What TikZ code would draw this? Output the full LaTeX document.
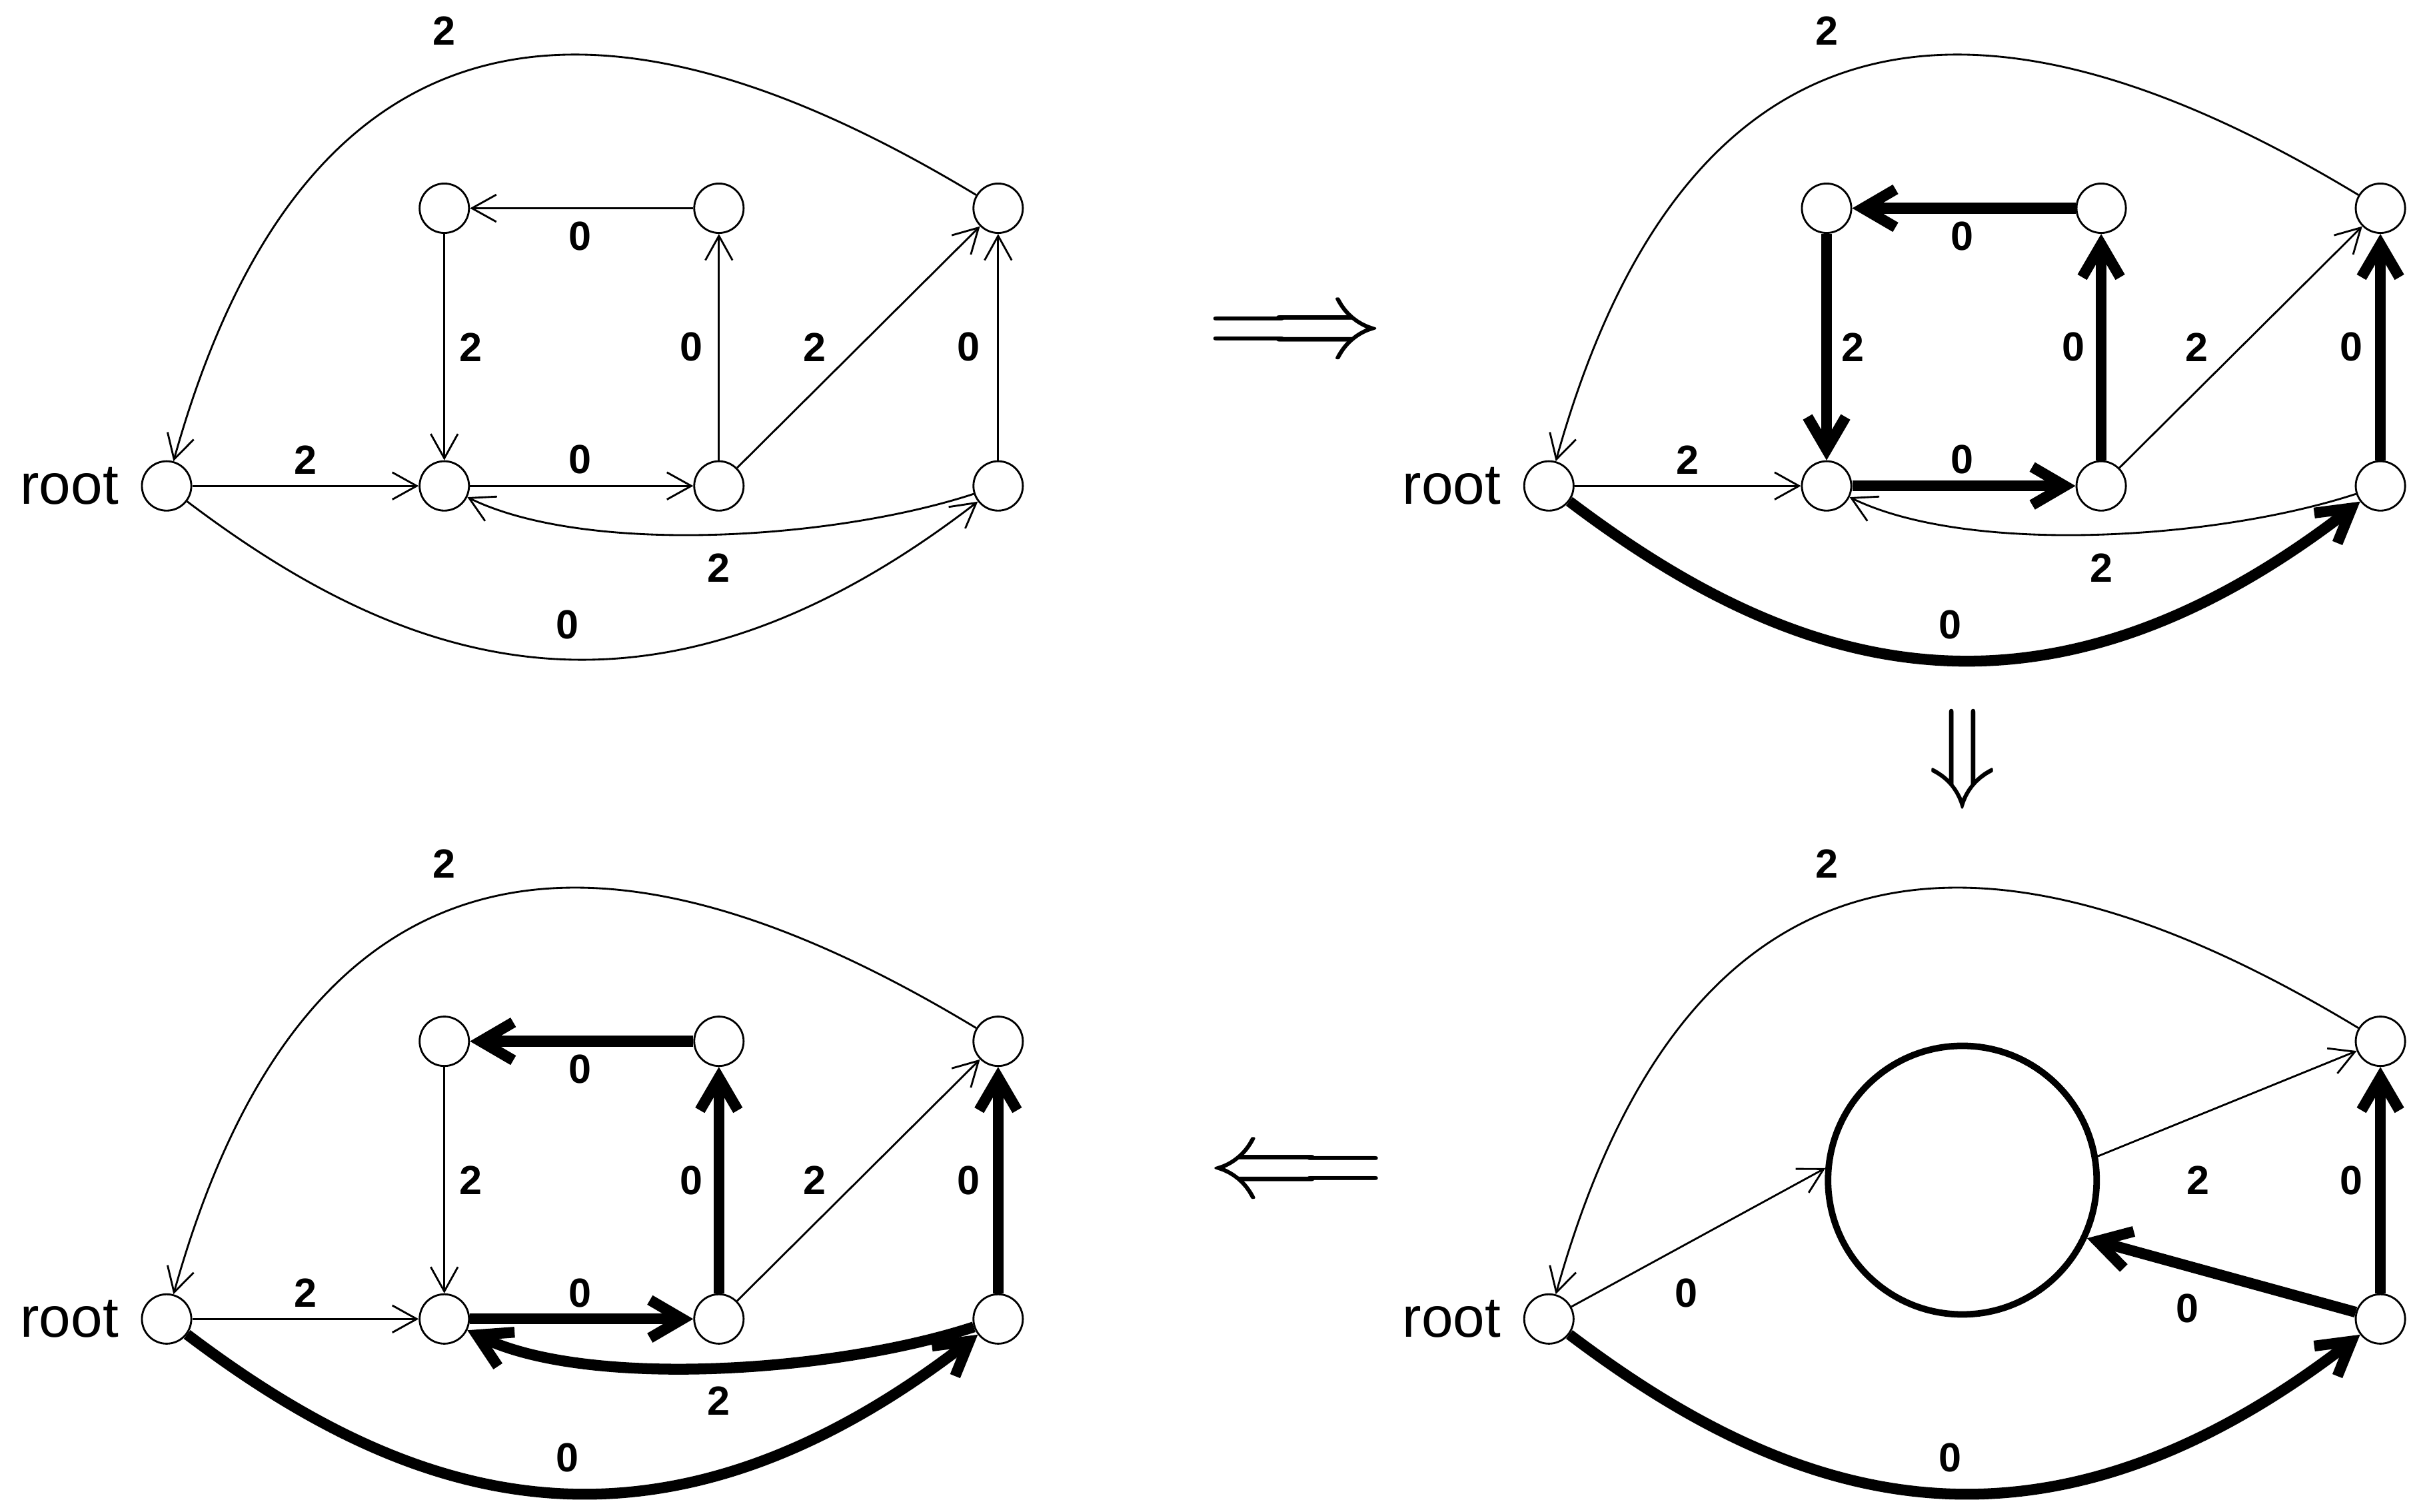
\documentclass[tikz,border=0pt]{standalone}
\usepackage{fontspec}
\setmainfont{Liberation Sans}
\usetikzlibrary{arrows.meta}
\tikzset{
 v/.style={circle,draw,line width=0.35pt,minimum size=0.32cm,inner sep=0pt},
 th/.style={line width=0.35pt,-{Straight Barb[length=4.5pt,width=5pt]}},
 tk/.style={line width=2pt,-{Straight Barb[length=6pt,width=7pt]}},
 lb/.style={font=\bfseries\fontsize{7.5}{8}\selectfont,inner sep=0pt},
 rt/.style={font=\fontsize{10.5}{12}\selectfont,inner sep=0pt},
 tr/.style={font=\fontsize{22}{24}\selectfont,inner sep=0pt},
 x=0.01cm,y=-0.01cm}
\begin{document}
\begin{tikzpicture}
\useasboundingbox (0,0) rectangle (1568,980);
% ---------- panel A (top-left)
\begin{scope}[name prefix=a-]
\node[v] (r) at (108,315) {}; \node[rt] at (45,315) {root};
\node[v] (p) at (288,135) {}; \node[v] (q) at (466,135) {};
\node[v] (s) at (288,315) {}; \node[v] (t) at (466,315) {};
\node[v] (u) at (647,135) {}; \node[v] (w) at (647,315) {};
\draw[th] (u) .. controls (440,10) and (210,-50) .. (r);
\node[lb] at (288,20) {2};
\draw[th] (q) -- (p); \node[lb] at (376,153) {0};
\draw[th] (p) -- (s); \node[lb] at (305,225) {2};
\draw[th] (t) -- (q); \node[lb] at (448,225) {0};
\draw[th] (t) -- (u); \node[lb] at (528,225) {2};
\draw[th] (w) -- (u); \node[lb] at (628,225) {0};
\draw[th] (r) -- (s); \node[lb] at (198,298) {2};
\draw[th] (s) -- (t); \node[lb] at (376,298) {0};
\draw[th] (w) .. controls (540,350) and (380,360) .. (s); \node[lb] at (466,368) {2};
\draw[th] (r) .. controls (260,430) and (420,490) .. (w); \node[lb] at (368,405) {0};
\end{scope}
% ---------- panel B (top-right)
\begin{scope}[shift={(896,0)},name prefix=b-]
\node[v] (r) at (108,315) {}; \node[rt] at (45,315) {root};
\node[v] (p) at (288,135) {}; \node[v] (q) at (466,135) {};
\node[v] (s) at (288,315) {}; \node[v] (t) at (466,315) {};
\node[v] (u) at (647,135) {}; \node[v] (w) at (647,315) {};
\draw[th] (u) .. controls (440,10) and (210,-50) .. (r);
\node[lb] at (288,20) {2};
\draw[tk] (q) -- (p); \node[lb] at (376,153) {0};
\draw[tk] (p) -- (s); \node[lb] at (305,225) {2};
\draw[tk] (t) -- (q); \node[lb] at (448,225) {0};
\draw[th] (t) -- (u); \node[lb] at (528,225) {2};
\draw[tk] (w) -- (u); \node[lb] at (628,225) {0};
\draw[th] (r) -- (s); \node[lb] at (198,298) {2};
\draw[tk] (s) -- (t); \node[lb] at (376,298) {0};
\draw[th] (w) .. controls (540,350) and (380,360) .. (s); \node[lb] at (466,368) {2};
\draw[tk] (r) .. controls (260,430) and (420,490) .. (w); \node[lb] at (368,405) {0};
\end{scope}
% ---------- panel C (bottom-left)
\begin{scope}[shift={(0,540)},name prefix=c-]
\node[v] (r) at (108,315) {}; \node[rt] at (45,315) {root};
\node[v] (p) at (288,135) {}; \node[v] (q) at (466,135) {};
\node[v] (s) at (288,315) {}; \node[v] (t) at (466,315) {};
\node[v] (u) at (647,135) {}; \node[v] (w) at (647,315) {};
\draw[th] (u) .. controls (440,10) and (210,-50) .. (r);
\node[lb] at (288,20) {2};
\draw[tk] (q) -- (p); \node[lb] at (376,153) {0};
\draw[th] (p) -- (s); \node[lb] at (305,225) {2};
\draw[tk] (t) -- (q); \node[lb] at (448,225) {0};
\draw[th] (t) -- (u); \node[lb] at (528,225) {2};
\draw[tk] (w) -- (u); \node[lb] at (628,225) {0};
\draw[th] (r) -- (s); \node[lb] at (198,298) {2};
\draw[tk] (s) -- (t); \node[lb] at (376,298) {0};
\draw[tk] (w) .. controls (540,350) and (380,360) .. (s); \node[lb] at (466,368) {2};
\draw[tk] (r) .. controls (260,430) and (420,490) .. (w); \node[lb] at (368,405) {0};
\end{scope}
% ---------- panel D (bottom-right)
\begin{scope}[shift={(896,540)},name prefix=d-]
\node[v] (r) at (108,315) {}; \node[rt] at (45,315) {root};
\node[circle,draw,line width=1.2pt,minimum size=1.74cm,inner sep=0pt] (c) at (376,225) {};
\node[v] (u) at (647,135) {}; \node[v] (w) at (647,315) {};
\draw[th] (u) .. controls (440,10) and (210,-50) .. (r);
\node[lb] at (288,20) {2};
\draw[th] (r) -- (c.175); \node[lb] at (197,298) {0};
\draw[th] (c.10) -- (u); \node[lb] at (529,225) {2};
\draw[tk] (w) -- (c.-25); \node[lb] at (522,308) {0};
\draw[tk] (w) -- (u); \node[lb] at (628,225) {0};
\draw[tk] (r) .. controls (260,430) and (420,490) .. (w); \node[lb] at (368,405) {0};
\end{scope}
% ---------- transition arrows
\node[tr] (ar1) at (840,218) {$\Longrightarrow$};
\node[tr] (ar2) at (1272,492) {$\Downarrow$};
\node[tr] (ar3) at (840,762) {$\Longleftarrow$};
\end{tikzpicture}
\end{document}
